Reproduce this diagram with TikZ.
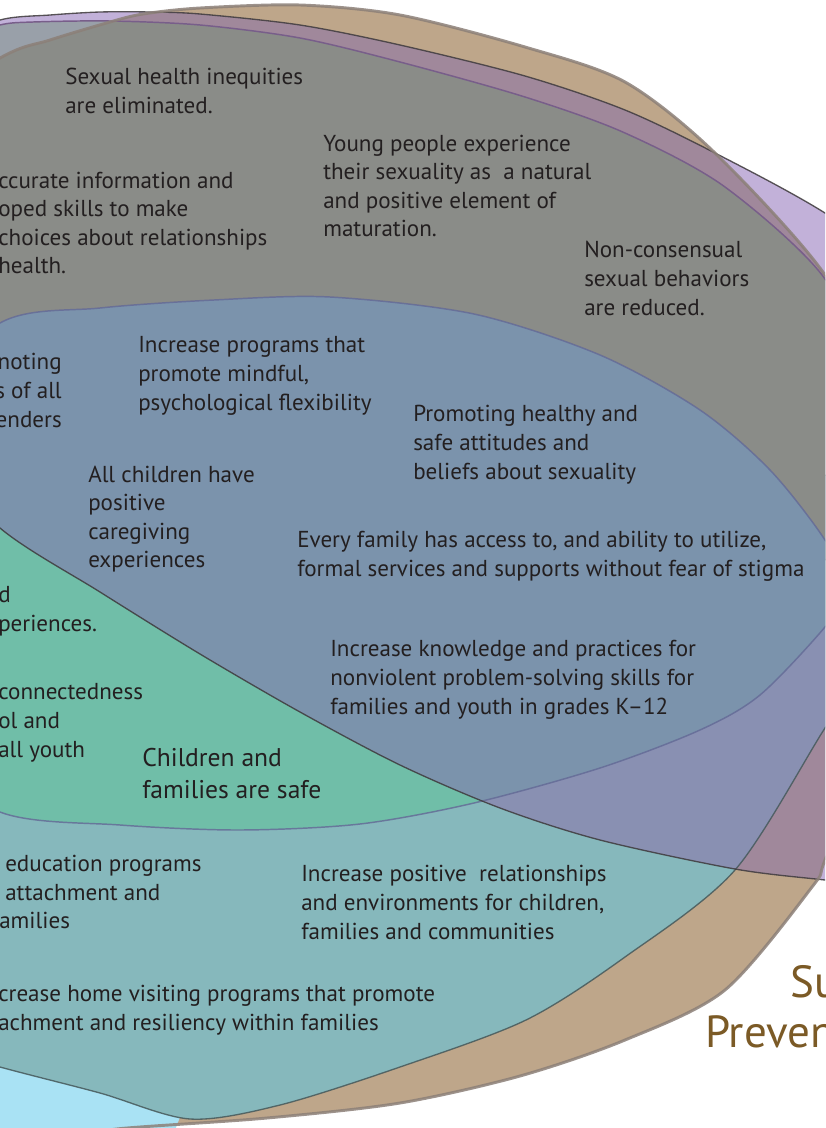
\documentclass[tikz,border=0pt]{standalone}
\usepackage{fontspec}
\setmainfont{PT Sans}

\definecolor{tanfill}{HTML}{BEA68A}
\definecolor{lilacfill}{HTML}{C2B1D9}
\definecolor{mauvefill}{HTML}{A0889B}
\definecolor{cyanfill}{HTML}{A9E2F4}
\definecolor{tealfill}{HTML}{86B8BC}
\definecolor{periwinklefill}{HTML}{8990B2}
\definecolor{bluegrayfill}{HTML}{99A0A9}
\definecolor{grayfill}{HTML}{8A8C88}
\definecolor{greenfill}{HTML}{70BEA8}
\definecolor{steelfill}{HTML}{7B93AC}
\definecolor{ink}{HTML}{231F20}
\definecolor{titlebrown}{HTML}{7B5A26}

% outlines of the overlapping sets
\newcommand{\brownshape}{plot[smooth cycle] coordinates {(0,58) (50,40) (110,22) (143,14) (200,8) (300,5) (400,15) (525,47) (625,82) (715,153) (825,275) (870,380) (890,560) (870,740) (825,860) (812,887) (725,990) (625,1040) (520,1076) (400,1103) (267,1118) (127,1128) (0,1140) (-150,1110) (-260,900) (-290,600) (-250,330) (-130,140)}}
\newcommand{\lilacshape}{plot[smooth cycle] coordinates {(0,20) (50,15) (100,12) (150,12) (200,14) (300,25) (400,45) (525,76) (625,110) (715,153) (825,213) (950,300) (1030,420) (1060,560) (1040,720) (980,840) (900,888) (825,880) (735,869) (600,840) (500,808) (400,765) (300,712) (200,654) (100,592) (0,528) (-80,440) (-130,300) (-120,150) (-60,45)}}
\newcommand{\grayshape}{plot[smooth cycle] coordinates {(0,25) (33,22) (110,21) (200,25) (300,38) (400,62) (525,97) (625,133) (725,187) (825,279) (860,380) (855,470) (840,560) (700,520) (400,500) (0,500) (-80,400) (-80,150) (-40,40)}}
\newcommand{\tealshape}{plot[smooth cycle] coordinates {(-100,500) (400,480) (800,470) (860,530) (875,620) (860,680) (825,728) (735,870) (625,957) (526,1020) (400,1067) (280,1105) (190,1119) (100,1093) (0,1067) (-100,1038) (-190,900)}}
\newcommand{\blueshape}{plot[smooth cycle] coordinates {(-150,580) (-100,420) (0,323) (100,308) (214,300) (330,297) (474,314) (600,355) (700,410) (770,470) (825,540) (848,590) (825,627) (760,695) (700,730) (600,768) (474,803) (360,824) (240,830) (120,825) (0,812) (-100,740)}}

\tikzset{
  bodytext/.style={font=\fontsize{17.3}{21.4}\selectfont, text=ink, align=left, inner sep=0pt, anchor=base west},
  bigtext/.style={font=\fontsize{19.2}{23.5}\selectfont, text=ink, align=left, inner sep=0pt, anchor=base west},
  titletext/.style={font=\fontsize{33.75}{37.5}\selectfont, text=titlebrown, inner sep=0pt, anchor=base west},
  rim/.style={line width=#1},
}

\begin{document}
\begin{tikzpicture}[x=0.75pt,y=0.75pt,yscale=-1,xscale=1]
\useasboundingbox (0,0) rectangle (825,1128);
\fill[white] (0,0) rectangle (825,1128);
\clip (0,0) rectangle (825,1128);

%Shape: Brown Ellipse
\fill[tanfill] \brownshape;
%Shape: Purple Ellipse
\fill[lilacfill] \lilacshape;
\begin{scope}
\clip \brownshape;
\fill[mauvefill] \lilacshape;
\end{scope}

%Shape: Cyan Ellipse
\fill[cyanfill] (-150,1000) circle (350);

%Shape: Teal Ellipse
\fill[tealfill] \tealshape;
\begin{scope}
\clip \tealshape;
\fill[periwinklefill] \lilacshape;
\end{scope}
\draw[rim=1pt, draw={rgb,255:red,70;green,88;blue,90}, draw opacity=0.85] \tealshape;

%Shape: Gray Ellipse
\fill[bluegrayfill] \grayshape;
\begin{scope}
\clip \brownshape;
\fill[grayfill] \grayshape;
\end{scope}
\draw[rim=1.1pt, draw={rgb,255:red,120;green,94;blue,138}] \grayshape;

%Shape: Blue Ellipse
\fill[greenfill] \blueshape;
\begin{scope}
\clip \blueshape;
\fill[steelfill] \lilacshape;
\end{scope}
\draw[rim=1.1pt, draw={rgb,255:red,100;green,104;blue,150}, draw opacity=0.8] \blueshape;

%Shape: Purple and Brown rims
\draw[rim=1pt, draw={rgb,255:red,62;green,58;blue,60}, draw opacity=0.85] \lilacshape;
\draw[rim=2.2pt, draw={rgb,255:red,140;green,128;blue,120}, draw opacity=0.85] \brownshape;

% Text Node (anchored at the baseline of the last line)
\node[bodytext] (ineq) at (65,113.5) {Sexual health inequities\\are eliminated.};
% Text Node
\node[bodytext] (info) at (-2,273.6) {ccurate information and\\oped skills to make\\choices about relationships\\health.};
% Text Node
\node[bodytext] (young) at (323,236.6) {Young people experience\\their sexuality as~ a natural\\and positive element of\\maturation.};
% Text Node
\node[bodytext] (consent) at (584,315) {Non-consensual\\sexual behaviors\\are reduced.};
% Text Node
\node[bodytext, anchor=base east, align=right] (genders) at (62,427) {noting\\s of all\\enders};
% Text Node
\node[bodytext] (mindful) at (138,410) {Increase programs that\\promote mindful,\\psychological flexibility};
% Text Node
\node[bodytext] (attitudes) at (413,479) {Promoting healthy and\\safe attitudes and\\beliefs about sexuality};
% Text Node
\node[bodytext] (caregiving) at (88,567.6) {All children have\\positive\\caregiving\\experiences};
% Text Node
\node[bodytext] (access) at (297,576.5) {Every family has access to, and ability to utilize,\\formal services and supports without fear of stigma};
% Text Node
\node[bodytext] (periences) at (-2,631.5) {d\\periences.};
% Text Node
\node[bodytext] (knowledge) at (330,714) {Increase knowledge and practices for\\nonviolent problem-solving skills for\\families and youth in grades K–12};
% Text Node
\node[bodytext] (connected) at (-2,757) {connectedness\\ol and\\all youth};
% Text Node
\node[bigtext] (safe) at (142,798.3) {Children and\\families are safe};
% Text Node
\node[bodytext] (education) at (5,900.5) {education programs\\attachment and};
% Text Node
\node[bodytext] (amilies) at (-1,928) {amilies};
% Text Node
\node[bodytext] (positive) at (301,939) {Increase positive~ relationships\\and environments for children,\\families and communities};
% Text Node
\node[bodytext] (homevisit) at (-2,1030.5) {crease home visiting programs that promote\\achment and resiliency within families};
% Text Node
\node[titletext] (titleSu) at (790,997) {Su};
% Text Node
\node[titletext] (titlePrev) at (705,1047) {Preven};

\end{tikzpicture}
\end{document}
